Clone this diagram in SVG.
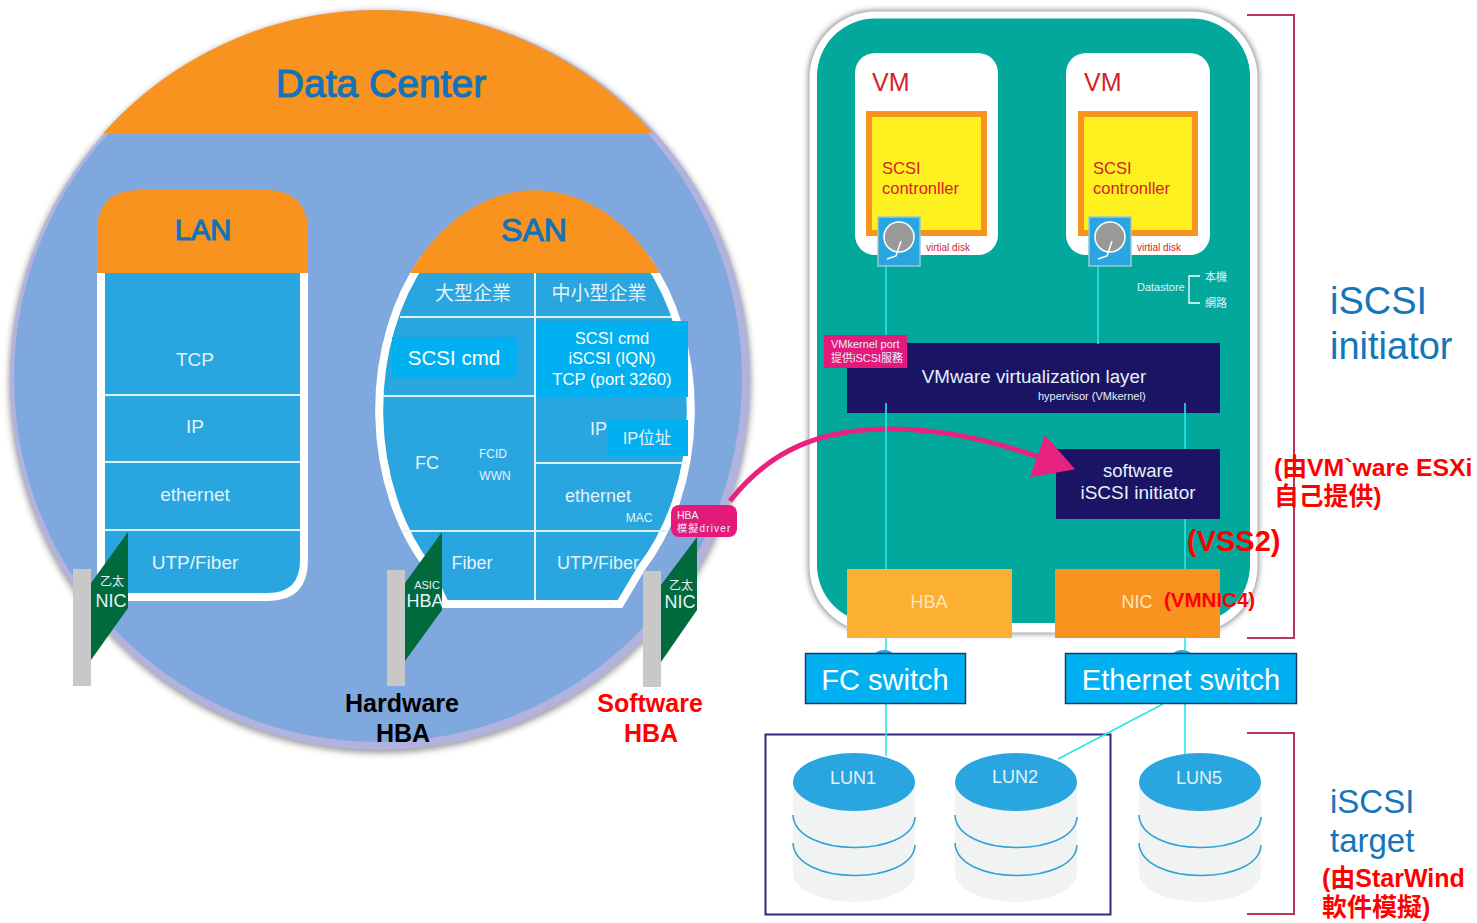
<svg xmlns="http://www.w3.org/2000/svg" width="1477" height="923" viewBox="0 0 1477 923">
<style>
text{font-family:"Liberation Sans","Noto Sans CJK TC",sans-serif}
.w{fill:#e4f2fa}
.m{text-anchor:middle}
.ln{stroke:#e0f1fa;stroke-width:2;fill:none}
.c{stroke:#29e6e6;stroke-width:1.600;fill:none}
.hd{fill:#1473b8;stroke:#1473b8;stroke-width:1.100;text-anchor:middle}
.org{fill:#f7931e}
.blue{fill:#29a6df}
.br{fill:#00b0f0}
.grey{fill:#c8c8c8}
.grn{fill:#006a3c}
.red{fill:#f00;font-weight:bold}
.vm{fill:#d2232a}
.br2{fill:none;stroke:#b8355e;stroke-width:2}
.t{fill:#1575b9}
.band{fill:none;stroke:#2fa3d8;stroke-width:1.6}
.cyl{fill:#f1f2f2}
</style>
<defs>
<filter id="sh" x="-5%" y="-5%" width="110%" height="110%"><feGaussianBlur stdDeviation="3"/></filter>
<marker id="ah" markerUnits="userSpaceOnUse" markerWidth="50" markerHeight="50" refX="24" refY="22.500" orient="auto"><path d="M0 0L40 22.500L0 45Z" fill="#e9217f"/></marker>
<clipPath id="dc"><circle cx="378" cy="378" r="368"/></clipPath>
<g id="disk"><rect x="-21" y="-24" width="42" height="49" fill="#29a6df" stroke="#9cc7cf" stroke-width="1.5"/><circle cy="-4" r="15" fill="#999" stroke="#fff" stroke-width="1.5"/><path d="M2 0L-3 15L-12 18" fill="none" stroke="#fff" stroke-width="1.5"/></g>
</defs>
<g id="data-center">
<circle cx="380" cy="382" r="371" fill="#555" opacity=".6" filter="url(#sh)"/>
<circle cx="380" cy="380" r="370" fill="#b1b3de"/>
<circle cx="378" cy="378" r="364" fill="#7fa8df"/>
<rect x="90" y="5" width="580" height="128" class="org" clip-path="url(#dc)"/>
<text x="381" y="97" font-size="39" class="hd">Data Center</text>
</g>
<g id="lan">
<path d="M101 260V597H268Q304 597 304 560V260Z" class="blue" stroke="#fff" stroke-width="8"/>
<path d="M97 273V232Q97 190 140 190H265Q308 190 308 232V273Z" class="org"/>
<text x="203" y="240" font-size="29" class="hd">LAN</text>
<path class="ln" d="M105 395H300M105 462H300M105 530H300"/>
<text x="195" y="366" font-size="19" class="w m">TCP</text>
<text x="195" y="433" font-size="19" class="w m">IP</text>
<text x="195" y="501" font-size="19" class="w m">ethernet</text>
<text x="195" y="569" font-size="19" class="w m">UTP/Fiber</text>
</g>
<g id="san">
<path d="M423 260A156 216 0 0 0 428 567L445 604H620L642 567A156 216 0 0 0 647 260Z" class="blue" stroke="#fff" stroke-width="8"/>
<path d="M410 273A160 220 0 0 1 660 273Z" class="org"/>
<text x="534" y="241" font-size="32" class="hd">SAN</text>
<path class="ln" d="M535 273V600M400 317H672M383 396H535M535 463H686M403 531H667"/>
<text x="473" y="300" font-size="19" class="w m">大型企業</text>
<text x="599" y="300" font-size="19" class="w m">中小型企業</text>
<rect x="392" y="337" width="125" height="41" class="br"/>
<text x="454" y="365" font-size="20.500" fill="#fff" class="m">SCSI cmd</text>
<rect x="536" y="321" width="152" height="76" class="br"/>
<text x="612" y="344" font-size="16.500" fill="#fff" class="m">SCSI cmd</text>
<text x="612" y="364" font-size="16.500" fill="#fff" class="m">iSCSI (IQN)</text>
<text x="612" y="385" font-size="16.700" fill="#fff" class="m">TCP (port 3260)</text>
<text x="590" y="435" font-size="18" class="w">IP</text>
<rect x="608" y="420" width="80" height="36" class="br"/>
<text x="647" y="444" font-size="16.500" class="w m">IP位址</text>
<text x="427" y="469" font-size="18" class="w m">FC</text>
<text x="493" y="458" font-size="12" class="w m">FCID</text>
<text x="495" y="480" font-size="12" class="w m">WWN</text>
<text x="598" y="502" font-size="18" class="w m">ethernet</text>
<text x="639" y="522" font-size="12" class="w m">MAC</text>
<text x="472" y="569" font-size="18" class="w m">Fiber</text>
<text x="598" y="569" font-size="18" class="w m">UTP/Fiber</text>
</g>
<g id="nic-lan">
<rect x="73" y="569" width="18" height="117" class="grey"/>
<path d="M128 532V608L91 660V583Z" class="grn"/>
<text x="112" y="586" font-size="12" class="w m">乙太</text>
<text x="111" y="607" font-size="18" class="w m">NIC</text>
</g>
<g id="hba-hardware">
<rect x="387" y="570" width="18" height="116" class="grey"/>
<path d="M442 532V610L405 661V583Z" class="grn"/>
<text x="427" y="589" font-size="11" class="w m">ASIC</text>
<text x="425" y="607" font-size="18" class="w m">HBA</text>
<text x="402" y="712" font-size="25" font-weight="bold" fill="#000" class="m">Hardware</text>
<text x="403" y="742" font-size="25" font-weight="bold" fill="#000" class="m">HBA</text>
</g>
<g id="hba-software">
<rect x="643" y="571" width="18" height="116" class="grey"/>
<path d="M697 537V610L661 662V585Z" class="grn"/>
<text x="681" y="590" font-size="12" class="w m">乙太</text>
<text x="680" y="608" font-size="18" class="w m">NIC</text>
<text x="650" y="712" font-size="25" class="red m">Software</text>
<text x="651" y="742" font-size="25" class="red m">HBA</text>
</g>
<g id="esxi">
<rect x="809" y="11" width="449" height="622" rx="66" fill="#444" opacity=".75" filter="url(#sh)"/>
<rect x="809.500" y="11.500" width="448" height="621" rx="66" fill="#fff"/>
<rect x="817" y="18.500" width="433" height="604.500" rx="58" fill="#02a89c"/>
</g>
<g id="vmware-layer">
<rect x="847" y="343" width="373" height="70" fill="#1b1464"/>
<text x="1034" y="383" font-size="18.800" class="w m">VMware virtualization layer</text>
<text x="1038" y="400" font-size="11" class="w">hypervisor (VMkernel)</text>
</g>
<g id="software-initiator">
<rect x="1056" y="449" width="164" height="70" fill="#1b1464"/>
<text x="1138" y="477" font-size="18.500" class="w m">software</text>
<text x="1138" y="499" font-size="19" class="w m">iSCSI initiator</text>
</g>
<g id="software-arrow">
<path d="M730 501C770 450 820 429 890 429C950 429 1000 443 1060 464" fill="none" stroke="#e9217f" stroke-width="5" marker-end="url(#ah)"/>
</g>
<g id="lun-group"><rect x="765.500" y="734.500" width="345" height="180" fill="none" stroke="#2e2a7f" stroke-width="2"/></g>
<g id="connectors">
<path class="c" d="M886 266V340M1098 266V344M886 403V569M1185 403V449M1185 519V569M886 638V653M1185 638V653M886 704V756M1185 704V754M1163 704L1058 759"/>
</g>
<g id="vm1">
<rect x="855" y="53" width="143" height="202" rx="20" fill="#fff"/>
<text x="872" y="91" font-size="25" class="vm">VM</text>
<rect x="869" y="114" width="115" height="119" fill="#fff01f" stroke="#f7931e" stroke-width="6"/>
<text x="882" y="174" font-size="16.500" class="vm">SCSI</text>
<text x="882" y="194" font-size="16.500" class="vm">contronller</text>
<use href="#disk" x="899" y="241"/>
<text x="926" y="251" font-size="10" class="vm">virtial disk</text>
</g>
<g id="vm2">
<rect x="1066" y="53" width="144" height="202" rx="20" fill="#fff"/>
<text x="1084" y="91" font-size="25" class="vm">VM</text>
<rect x="1081" y="114" width="114" height="119" fill="#fff01f" stroke="#f7931e" stroke-width="6"/>
<text x="1093" y="174" font-size="16.500" class="vm">SCSI</text>
<text x="1093" y="194" font-size="16.500" class="vm">contronller</text>
<use href="#disk" x="1110" y="241"/>
<text x="1137" y="251" font-size="10" class="vm">virtial disk</text>
</g>
<g id="datastore">
<text x="1137" y="291" font-size="11" class="w">Datastore</text>
<path d="M1200 276H1189V303H1200" fill="none" stroke="#fff" stroke-width="1.300"/>
<text x="1205" y="281" font-size="11" class="w">本機</text>
<text x="1205" y="307" font-size="11" class="w">網路</text>
</g>
<g id="vmkernel-port">
<rect x="824" y="335" width="83" height="33" fill="#e5197b"/>
<text x="831" y="348" font-size="11" class="w">VMkernel port</text>
<text x="831" y="362" font-size="11" class="w">提供iSCSI服務</text>
</g>
<g id="hba">
<rect x="847" y="569" width="165" height="69" fill="#fbb034"/>
<text x="929" y="608" font-size="18" fill="#fbe6c4" class="m">HBA</text>
</g>
<g id="nic">
<rect x="1055" y="569" width="165" height="69" class="org"/>
<text x="1137" y="608" font-size="18" fill="#fbe6c4" class="m">NIC</text>
<text x="1164" y="607" font-size="20.500" class="red">(VMNIC4)</text>
</g>
<g id="fc-switch">
<ellipse cx="884" cy="658" rx="11" ry="8" class="blue"/>
<rect x="805.500" y="653.500" width="160" height="50" class="br" stroke="#1f3864" stroke-width="1.500"/>
<text x="885" y="690" font-size="29" fill="#fff" class="m">FC switch</text>
</g>
<g id="ethernet-switch">
<ellipse cx="1182" cy="658" rx="11" ry="8" class="blue"/>
<rect x="1065.500" y="653.500" width="231" height="50" class="br" stroke="#1f3864" stroke-width="1.500"/>
<text x="1181" y="690" font-size="29" fill="#fff" class="m">Ethernet switch</text>
</g>
<g id="hba-driver">
<rect x="671" y="505" width="66" height="32" rx="8" fill="#e5197b"/>
<text x="677" y="519" font-size="10.500" class="w">HBA</text>
<text x="677" y="532" font-size="10" letter-spacing="1.200" class="w">模擬driver</text>
</g>
<g id="lun1">
<path class="cyl" d="M793 782V873A61 29 0 0 0 915 873V782Z"/>
<path class="band" d="M793 815C795 858 913 858 915 817M793 843C795 886 913 886 915 845"/>
<ellipse cx="854" cy="782" rx="61" ry="29" class="blue"/>
<text x="853" y="784" font-size="18" class="w m">LUN1</text>
</g>
<g id="lun2">
<path class="cyl" d="M955 782V873A61 29 0 0 0 1077 873V782Z"/>
<path class="band" d="M955 815C957 858 1075 858 1077 817M955 843C957 886 1075 886 1077 845"/>
<ellipse cx="1016" cy="782" rx="61" ry="29" class="blue"/>
<text x="1015" y="783" font-size="18" class="w m">LUN2</text>
</g>
<g id="lun5">
<path class="cyl" d="M1139 782V873A61 29 0 0 0 1261 873V782Z"/>
<path class="band" d="M1139 815C1141 858 1259 858 1261 817M1139 843C1141 886 1259 886 1261 845"/>
<ellipse cx="1200" cy="782" rx="61" ry="29" class="blue"/>
<text x="1199" y="784" font-size="18" class="w m">LUN5</text>
</g>
<g id="brackets">
<path class="br2" d="M1247 15H1294V638H1247M1247 733H1294V914H1247"/>
</g>
<g id="labels">
<text x="1330" y="314" font-size="38" class="t">iSCSI</text>
<text x="1330" y="359" font-size="38" class="t">initiator</text>
<text x="1330" y="813" font-size="33" class="t">iSCSI</text>
<text x="1330" y="852" font-size="33" class="t">target</text>
<text x="1274" y="476" font-size="24.800" class="red">(由VM`ware ESXi</text>
<text x="1274" y="505" font-size="24.800" class="red">自己提供)</text>
<text x="1187" y="551" font-size="29" class="red">(VSS2)</text>
<text x="1322" y="887" font-size="25" class="red">(由StarWind</text>
<text x="1322" y="916" font-size="25" class="red">軟件模擬)</text>
</g>
</svg>
